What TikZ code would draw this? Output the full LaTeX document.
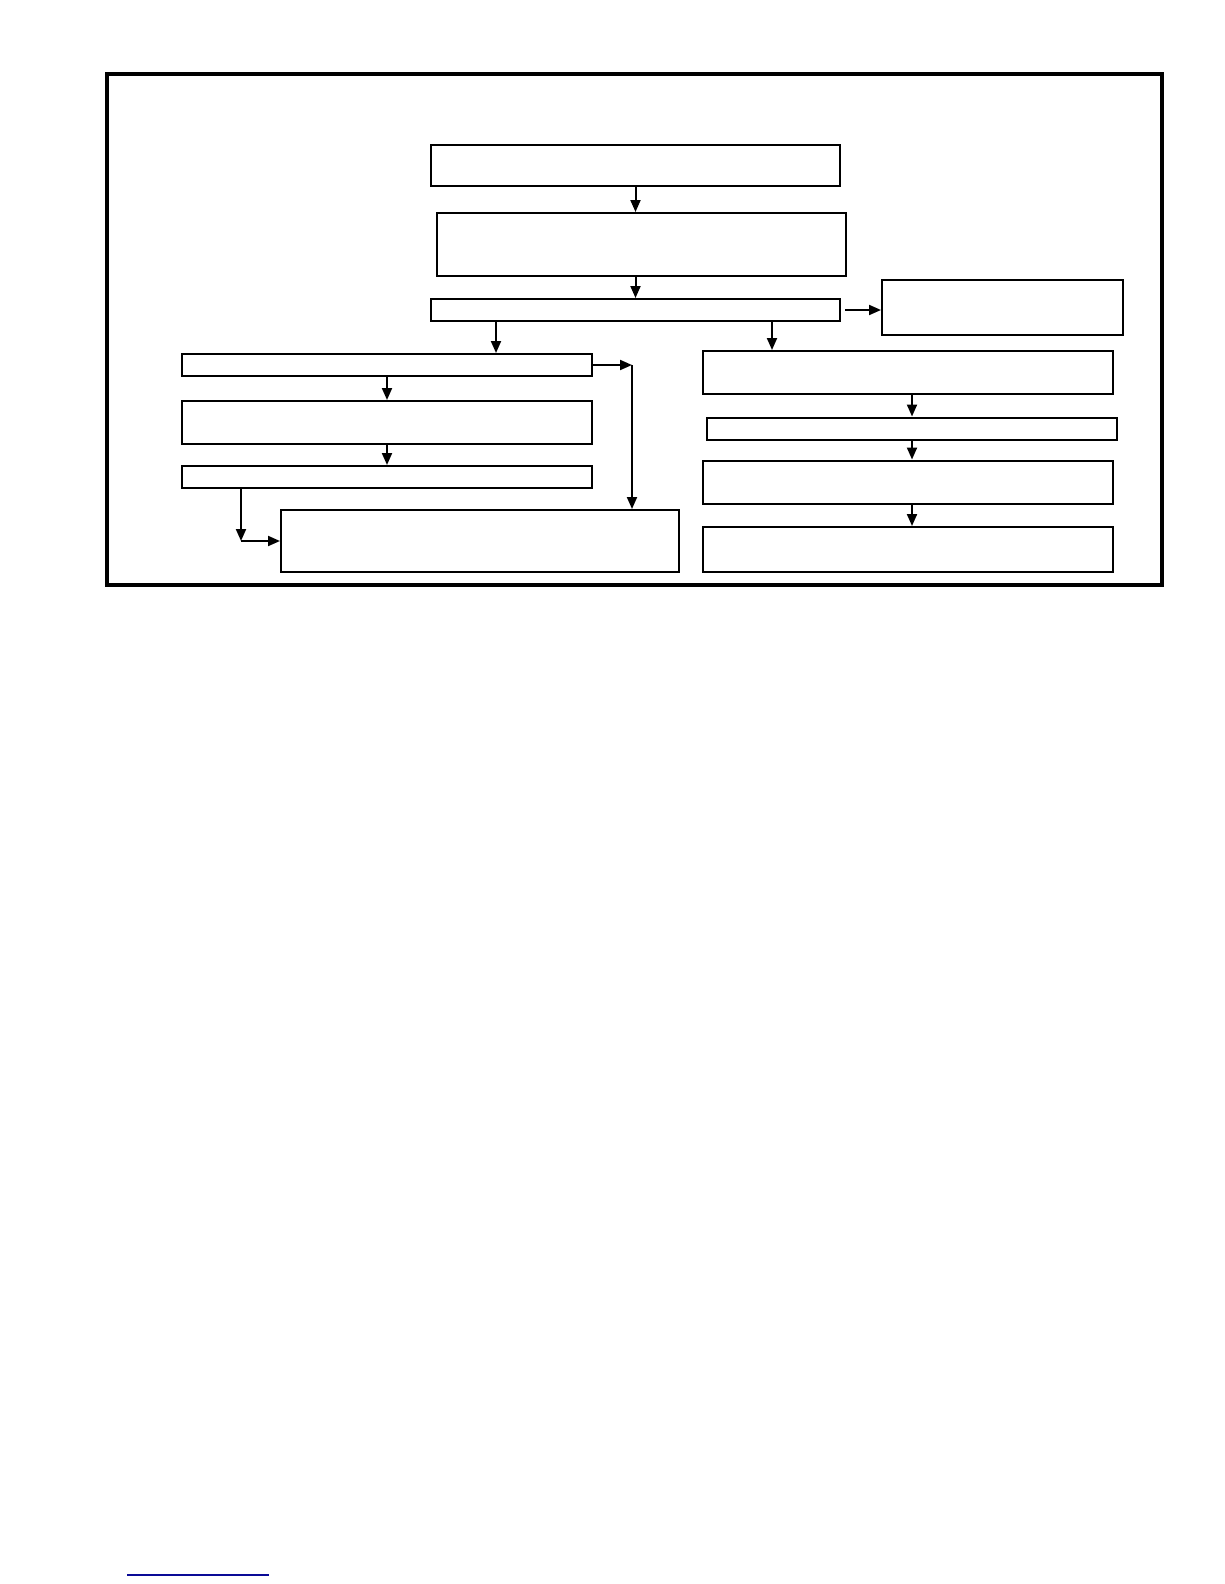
\documentclass[tikz,border=0pt]{standalone}
\usepackage{tikz}
\usetikzlibrary{arrows.meta,positioning}
\usepackage{color}

\definecolor{linkblue}{RGB}{10,10,150}

\tikzset{
  box/.style={draw, rectangle, line width=2pt, inner sep=0pt, anchor=north west},
  arr/.style={line width=2pt, -{Triangle[length=12pt,width=10pt]}},
}

\begin{document}
\begin{tikzpicture}[x=1pt,y=-1pt]
\useasboundingbox (0,0) rectangle (1224,1584);
\draw[line width=3.2pt] (107,74) rectangle (1162,585);

% main chain
\node[box, minimum width=409pt, minimum height=41pt] (start) at (430,144) {};
\node[box, minimum width=409pt, minimum height=63pt] (check) at (436,212) {};
\node[box, minimum width=409pt, minimum height=22pt] (split) at (430,298) {};
\node[box, minimum width=241pt, minimum height=55pt] (side) at (881,279) {};

% left branch
\node[box, minimum width=410pt, minimum height=22pt] (leftA) at (181,353) {};
\node[box, minimum width=410pt, minimum height=43pt] (leftB) at (181,400) {};
\node[box, minimum width=410pt, minimum height=22pt] (leftC) at (181,465) {};
\node[box, minimum width=398pt, minimum height=62pt] (merge) at (280,509) {};

% right branch
\node[box, minimum width=410pt, minimum height=43pt] (rightA) at (702,350) {};
\node[box, minimum width=410pt, minimum height=22pt] (rightB) at (706,416.5) {};
\node[box, minimum width=410pt, minimum height=43.5pt] (rightC) at (702,459.5) {};
\node[box, minimum width=410pt, minimum height=44.5pt] (rightD) at (702,526) {};

\coordinate (jog) at (632,0 |- leftA.east);
\coordinate (bend) at (241,0 |- merge.west);

\draw[arr] (start.south) -- (start.south |- check.north);
\draw[arr] (check.south -| split.north) -- (split.north);
\draw[arr] ([xshift=4pt]split.east) -- (split.east -| side.west);
\draw[arr] ([xshift=66pt]split.south west) -- ([xshift=66pt]split.south west |- leftA.north);
\draw[arr] ([xshift=342pt]split.south west) -- ([xshift=342pt]split.south west |- rightA.north);

\draw[arr] (leftA.south) -- (leftB.north);
\draw[arr] (leftB.south) -- (leftC.north);
\draw[arr] (leftA.east) -- (jog);
\draw[arr] (jog) -- (jog |- merge.north);
\draw[arr] (leftC.south -| bend) -- (bend);
\draw[arr] (bend) -- (merge.west);

\draw[arr] (rightA.south -| rightB.north) -- (rightB.north);
\draw[arr] (rightB.south) -- (rightB.south |- rightC.north);
\draw[arr] (rightB.south |- rightC.south) -- (rightB.south |- rightD.north);

\draw[line width=2pt, linkblue] (127,1575) -- (269,1575);
\end{tikzpicture}
\end{document}
